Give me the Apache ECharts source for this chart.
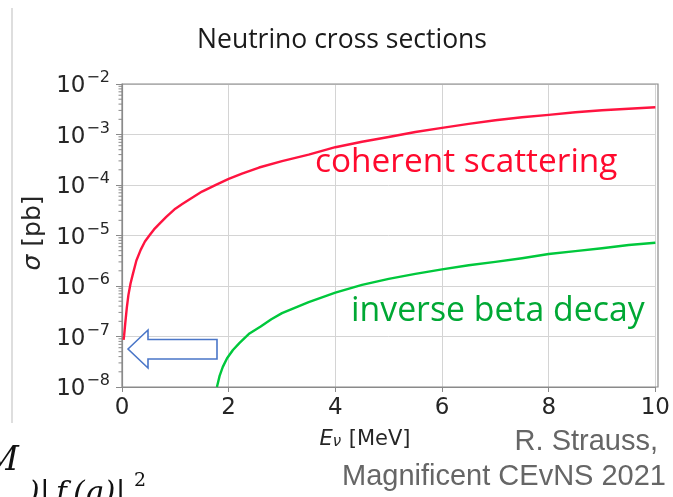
<!DOCTYPE html>
<html>
<head>
<meta charset="utf-8">
<script src="https://cdn.jsdelivr.net/npm/echarts@6/dist/echarts.min.js"></script>
<style>
  html, body { margin: 0; padding: 0; background: #fff; }
  #chart { width: 673px; height: 497px; }
</style>
</head>
<body>
<div id="chart"></div>
<script>
// Neutrino energy in MeV and cross section in pb, coherent elastic scattering
const cohEnergy = [0.03, 0.04, 0.06, 0.09, 0.12, 0.16, 0.2, 0.27, 0.35, 0.43, 0.52, 0.6, 0.7,
  0.83, 1.0, 1.13, 1.27, 1.5, 1.77, 2.0, 2.25, 2.57, 3.0, 3.5, 4.0, 4.5, 5.0, 5.5, 6.0, 6.5,
  7.0, 7.5, 8.0, 8.5, 9.0, 9.5, 10.0];
const cohSigma = [8.6e-8, 1.05e-7, 1.78e-7, 3.7e-7, 6.6e-7, 1.12e-6, 1.66e-6, 3.2e-6, 5.2e-6,
  7.6e-6, 1.02e-5, 1.32e-5, 1.70e-5, 2.34e-5, 3.4e-5, 4.2e-5, 5.2e-5, 7.4e-5, 1.02e-4,
  1.32e-4, 1.68e-4, 2.22e-4, 2.98e-4, 4.0e-4, 5.6e-4, 7.2e-4, 8.9e-4, 1.12e-3, 1.35e-3,
  1.62e-3, 1.91e-3, 2.19e-3, 2.45e-3, 2.75e-3, 3.02e-3, 3.24e-3, 3.47e-3];

// Inverse beta decay (threshold near 1.8 MeV)
const ibdEnergy = [1.78, 1.83, 1.89, 1.97, 2.08, 2.2, 2.39, 2.6, 2.8, 3.0, 3.5, 4.0, 4.5,
  5.0, 5.5, 6.0, 6.5, 7.0, 7.5, 8.0, 8.5, 9.0, 9.5, 10.0];
const ibdSigma = [1.0e-8, 1.66e-8, 2.5e-8, 3.7e-8, 5.4e-8, 7.4e-8, 1.15e-7, 1.58e-7, 2.2e-7,
  2.9e-7, 4.8e-7, 7.4e-7, 1.05e-6, 1.38e-6, 1.74e-6, 2.14e-6, 2.57e-6, 3.0e-6, 3.55e-6,
  4.3e-6, 4.9e-6, 5.6e-6, 6.5e-6, 7.2e-6];

// Axis ranges and tick labels
const xTicks = [0, 2, 4, 6, 8, 10];
const yDecades = [-8, -7, -6, -5, -4, -3, -2];

const seriesLabels = ['coherent scattering', 'inverse beta decay'];
const titleText = 'Neutrino cross sections';
const creditLines = ['R. Strauss,', 'Magnificent CEvNS 2021'];

// log-axis minor tick positions (2..9 within each decade)
const minorTicks = [];
for (let d = yDecades[0]; d < yDecades[yDecades.length - 1]; d++) {
  for (let m = 2; m <= 9; m++) minorTicks.push([0, m * Math.pow(10, d)]);
}

const zip = (xs, ys) => xs.map((x, i) => [x, ys[i]]);

const RED = '#ff1440';
const GREEN = '#00c83c';
const AXIS = '#8a8a8a';
const GRID = '#d4d4d4';
const TEXT = '#262626';

const chart = echarts.init(document.getElementById('chart'), null, { renderer: 'canvas' });

chart.setOption({
  backgroundColor: '#ffffff',
  animation: false,
  grid: { left: 122, right: 15, top: 84, bottom: 110 },
  xAxis: {
    type: 'value',
    min: xTicks[0],
    max: xTicks[xTicks.length - 1],
    interval: 2,
    axisLine: { show: true, lineStyle: { color: AXIS, width: 1.2 } },
    axisTick: { show: true, inside: false, length: 5, lineStyle: { color: AXIS } },
    axisLabel: { margin: 10, fontFamily: 'DejaVu Sans', fontSize: 23, color: TEXT },
    splitLine: { show: true, lineStyle: { color: GRID, width: 1 } }
  },
  yAxis: {
    type: 'log',
    logBase: 10,
    min: Math.pow(10, yDecades[0]),
    max: Math.pow(10, yDecades[yDecades.length - 1]),
    splitNumber: yDecades.length - 1,
    axisLine: { show: true, lineStyle: { color: AXIS, width: 1.2 } },
    axisTick: { show: true, inside: false, length: 6, lineStyle: { color: AXIS } },
    axisLabel: {
      margin: 12,
      formatter: v => '{b|10}{e|' + String(Math.round(Math.log10(v))).replace('-', '\u2212') + '}',
      rich: {
        b: { fontFamily: 'DejaVu Sans', fontSize: 23, color: TEXT, lineHeight: 28, verticalAlign: 'bottom' },
        e: { fontFamily: 'DejaVu Sans', fontSize: 16, color: TEXT, lineHeight: 28, verticalAlign: 'top', padding: [0, 0, 10, 1] }
      }
    },
    splitLine: { show: true, lineStyle: { color: GRID, width: 1 } }
  },
  series: [
    {
      name: seriesLabels[0],
      type: 'line',
      data: zip(cohEnergy, cohSigma),
      showSymbol: false,
      smooth: false,
      clip: true,
      lineStyle: { color: RED, width: 2.4, join: 'round' },
      z: 5
    },
    {
      name: seriesLabels[1],
      type: 'line',
      data: zip(ibdEnergy, ibdSigma),
      showSymbol: false,
      smooth: false,
      clip: true,
      lineStyle: { color: GREEN, width: 2.4, join: 'round' },
      z: 5
    },
    {
      // minor ticks on the log axis
      type: 'custom',
      data: minorTicks,
      clip: false,
      silent: true,
      renderItem: (params, api) => {
        const p = api.coord([api.value(0), api.value(1)]);
        return {
          type: 'line',
          shape: { x1: p[0] - 3.5, y1: p[1], x2: p[0], y2: p[1] },
          style: { stroke: AXIS, lineWidth: 1 }
        };
      },
      z: 4
    }
  ],
  graphic: [
    // frame top and right spines
    { type: 'rect', shape: { x: 122, y: 84, width: 536, height: 303 }, style: { fill: null, stroke: AXIS, lineWidth: 1.2 }, silent: true, z: 3 },
    // thin divider on the far left
    { type: 'line', shape: { x1: 12, y1: 8, x2: 12, y2: 423 }, style: { stroke: '#bdbdbd', lineWidth: 1 } },
    {
      type: 'text', x: 342, y: 40,
      style: { text: titleText, textAlign: 'center', textVerticalAlign: 'middle', fontFamily: 'Open Sans', fontSize: 26.5, fill: '#1a1a1a' }
    },
    // axis titles
    {
      type: 'text', x: 33, y: 233, rotation: Math.PI / 2,
      style: {
        text: '{i|σ}{n| [pb]}', textAlign: 'center', textVerticalAlign: 'middle',
        rich: {
          i: { fontFamily: 'DejaVu Sans', fontStyle: 'italic', fontSize: 25, fill: TEXT },
          n: { fontFamily: 'DejaVu Sans', fontSize: 25, fill: TEXT }
        }
      }
    },
    {
      type: 'text', x: 365, y: 437,
      style: {
        text: '{i|E}{s|ν}{n| [MeV]}', textAlign: 'center', textVerticalAlign: 'middle',
        rich: {
          i: { fontFamily: 'DejaVu Sans', fontStyle: 'italic', fontSize: 21, fill: TEXT, lineHeight: 26, verticalAlign: 'bottom' },
          s: { fontFamily: 'DejaVu Sans', fontStyle: 'italic', fontSize: 15, fill: TEXT, lineHeight: 26, verticalAlign: 'bottom', padding: [0, 1, 0, 0] },
          n: { fontFamily: 'DejaVu Sans', fontSize: 21, fill: TEXT, lineHeight: 26, verticalAlign: 'bottom' }
        }
      }
    },
    {
      type: 'text', x: 315, y: 162,
      style: { text: seriesLabels[0], textVerticalAlign: 'middle', fontFamily: 'Open Sans', fontSize: 33.4, fill: '#ff0a2e' },
      z: 6
    },
    {
      type: 'text', x: 351, y: 311,
      style: { text: seriesLabels[1], textVerticalAlign: 'middle', fontFamily: 'Open Sans', fontSize: 33.8, fill: '#00a834' },
      z: 6
    },
    // hollow arrow pointing at the low-energy end
    {
      type: 'polygon',
      shape: { points: [[128, 349], [148, 330], [148, 339.5], [217, 339.5], [217, 359], [148, 359], [148, 368]] },
      style: { fill: '#ffffff', stroke: '#4a76c8', lineWidth: 1.6 },
      z: 7
    },
    {
      type: 'text', x: 658, y: 442,
      style: { text: creditLines[0], textAlign: 'right', textVerticalAlign: 'middle', fontFamily: 'Liberation Sans', fontSize: 29, fill: '#666666' }
    },
    {
      type: 'text', x: 666, y: 477,
      style: { text: creditLines[1], textAlign: 'right', textVerticalAlign: 'middle', fontFamily: 'Liberation Sans', fontSize: 29, fill: '#666666' }
    },
    // fragment of a formula at the lower left
    {
      type: 'text', x: -16, y: 461,
      style: { text: 'M', textVerticalAlign: 'middle', fontFamily: 'DejaVu Serif', fontStyle: 'italic', fontSize: 34, fill: '#111' }
    },
    {
      type: 'text', x: 28, y: 494,
      style: { text: ')|\u2009f\u2009(q)|', textVerticalAlign: 'middle', fontFamily: 'DejaVu Serif', fontStyle: 'italic', fontSize: 30, fill: '#111' }
    },
    {
      type: 'text', x: 134, y: 481,
      style: { text: '2', textVerticalAlign: 'middle', fontFamily: 'DejaVu Serif', fontSize: 19, fill: '#111' }
    }
  ]
});
</script>
</body>
</html>
